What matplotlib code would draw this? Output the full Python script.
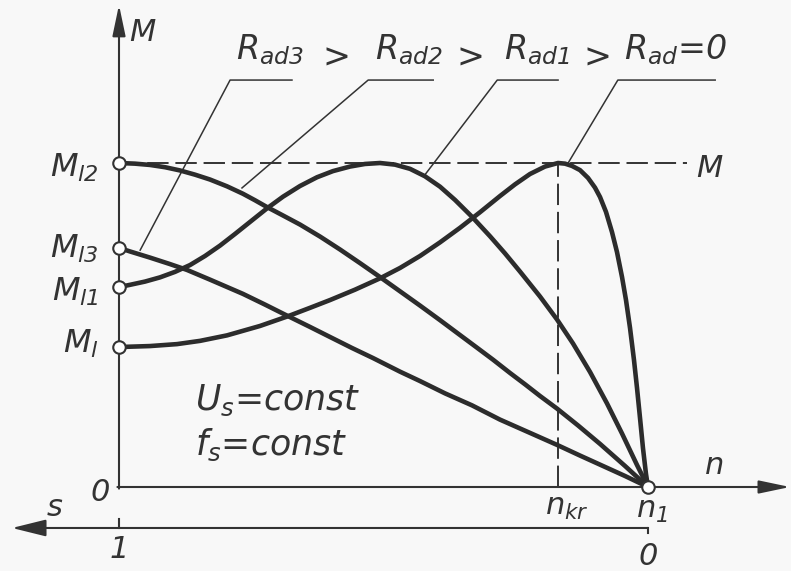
import matplotlib
matplotlib.use("Agg")
import matplotlib.pyplot as plt

# ---------------- data (n/n1 on x, M/Mk on y) ----------------
# curve R_ad = 0
n_r0 = [0.0, 0.0586, 0.1096, 0.1531, 0.2042, 0.2665, 0.3176, 0.3611, 0.3989, 0.4461,
        0.4934, 0.5312, 0.5690, 0.6068, 0.6446, 0.6824, 0.7202, 0.7486, 0.7769, 0.8053,
        0.8299, 0.8431, 0.8563, 0.8715, 0.8866, 0.8998, 0.9093, 0.9206, 0.9319, 0.9414,
        0.9509, 0.9584, 0.9660, 0.9735, 0.9792, 0.9849, 0.9905, 0.9962, 1.0]
m_r0 = [0.432, 0.435, 0.441, 0.451, 0.468, 0.497, 0.526, 0.553, 0.577, 0.609,
        0.644, 0.676, 0.713, 0.755, 0.800, 0.848, 0.898, 0.934, 0.966, 0.989,
        1.0, 0.998, 0.991, 0.978, 0.954, 0.924, 0.895, 0.849, 0.787, 0.725,
        0.648, 0.577, 0.491, 0.392, 0.306, 0.213, 0.120, 0.040, 0.0]
# curve R_ad1
n_r1 = [0.0, 0.0208, 0.0491, 0.0775, 0.1059, 0.1342, 0.1626, 0.1909, 0.2193, 0.2476,
        0.2798, 0.3100, 0.3422, 0.3743, 0.4045, 0.4367, 0.4650, 0.4934, 0.5217, 0.5501,
        0.5784, 0.6068, 0.6352, 0.6673, 0.7013, 0.7297, 0.7580, 0.7958, 0.8280, 0.8582,
        0.8904, 0.9225, 0.9509, 0.9792, 1.0]
m_r1 = [0.617, 0.624, 0.634, 0.647, 0.664, 0.685, 0.713, 0.745, 0.781, 0.818,
        0.860, 0.896, 0.929, 0.956, 0.975, 0.989, 0.997, 1.0, 0.995, 0.982,
        0.959, 0.927, 0.886, 0.834, 0.774, 0.721, 0.665, 0.588, 0.517, 0.443,
        0.355, 0.258, 0.165, 0.068, 0.0]
# curve R_ad2
n_r2 = [0.0, 0.0302, 0.0586, 0.0870, 0.1153, 0.1437, 0.1720, 0.2042, 0.2344, 0.2571,
        0.2798, 0.3100, 0.3422, 0.3800, 0.4178, 0.4556, 0.4934, 0.5312, 0.5690, 0.6068,
        0.6446, 0.6767, 0.7070, 0.7391, 0.7675, 0.7958, 0.8280, 0.8677, 0.9093, 0.9565,
        1.0]
m_r2 = [1.0, 0.998, 0.994, 0.987, 0.977, 0.964, 0.949, 0.928, 0.905, 0.885,
        0.864, 0.838, 0.810, 0.773, 0.733, 0.691, 0.648, 0.604, 0.560, 0.515,
        0.469, 0.430, 0.393, 0.352, 0.317, 0.281, 0.242, 0.190, 0.133, 0.065,
        0.0]
# curve R_ad3
n_r3 = [0.0, 0.0208, 0.0586, 0.0964, 0.1285, 0.1720, 0.2344, 0.2760, 0.3176, 0.3611,
        0.3989, 0.4405, 0.4802, 0.5312, 0.5690, 0.6163, 0.6673, 0.7202, 0.7769, 0.8280,
        0.8715, 0.9093, 0.9565, 1.0]
m_r3 = [0.738, 0.727, 0.708, 0.688, 0.670, 0.640, 0.596, 0.563, 0.529, 0.494,
        0.463, 0.429, 0.398, 0.356, 0.327, 0.289, 0.252, 0.208, 0.167, 0.130,
        0.097, 0.069, 0.034, 0.0]

n_kr = 0.8299          # speed at breakdown torque (R_ad = 0)
m_max = 1.0            # breakdown torque level

start_labels = [r"$M_{l2}$", r"$M_{l3}$", r"$M_{l1}$", r"$M_{l}$"]
res_labels = [r"$R_{ad3}$", r"$R_{ad2}$", r"$R_{ad1}$", r"$R_{ad}$=0"]

# ---------------- style ----------------
plt.rcParams["font.family"] = ["DejaVu Sans"]
plt.rcParams["font.style"] = "italic"
plt.rcParams["mathtext.fontset"] = "custom"
plt.rcParams["mathtext.it"] = "DejaVu Sans:italic"
plt.rcParams["mathtext.rm"] = "DejaVu Sans:italic"
plt.rcParams["mathtext.sf"] = "DejaVu Sans:italic"

ink = "#333333"
bg = "#f8f8f8"
FS = 23

fig = plt.figure(figsize=(7.91, 5.71), dpi=100, facecolor=bg)
ax = fig.add_axes([0, 0, 1, 1])
ax.set_facecolor(bg)
ax.set_xlim(-119 / 529, 672 / 529)
ax.set_ylim(-84 / 324, 487 / 324)
ax.axis("off")

# dashed reference lines
ax.plot([0, 1.074], [m_max, m_max], color=ink, lw=1.4, ls=(0, (11, 3.5)), zorder=1)
ax.plot([n_kr, n_kr], [0, m_max], color=ink, lw=1.4, ls=(0, (11, 3.5)), zorder=1)

# curves
for xs, ys in [(n_r0, m_r0), (n_r1, m_r1), (n_r2, m_r2), (n_r3, m_r3)]:
    ax.plot(xs, ys, color="#2c2c2c", lw=3.3, solid_joinstyle="round",
            solid_capstyle="round", zorder=3)

# axes
arrow_kw = dict(arrowstyle="-|>,head_length=0.95,head_width=0.2", color=ink, lw=1.5,
                shrinkA=0, shrinkB=0, mutation_scale=20)
ax.annotate("", xy=(0, 1.488), xytext=(0, -0.005), arrowprops=arrow_kw, zorder=2)
ax.annotate("", xy=(1.2684, 0), xytext=(-0.003, 0), arrowprops=arrow_kw, zorder=2)
s_y = -0.1265
ax.annotate("", xy=(-0.2023, s_y), xytext=(1.0, s_y),
            arrowprops=dict(arrowstyle="-|>,head_length=1.05,head_width=0.26", color=ink,
                            lw=1.5, shrinkA=0, shrinkB=0, mutation_scale=20), zorder=2)
ax.plot([0, 0], [s_y, -0.100], color=ink, lw=1.5)
ax.plot([1.0, 1.0], [s_y, -0.142], color=ink, lw=1.5)

# open circles
ax.plot([n_r2[0], n_r3[0], n_r1[0], n_r0[0], 1.0],
        [m_r2[0], m_r3[0], m_r1[0], m_r0[0], 0.0],
        ls="none", marker="o", ms=9, mfc="white", mec=ink, mew=1.5, zorder=5)

# start-torque labels
for lab, yb in zip(start_labels, [0.957, 0.707, 0.574, 0.414]):
    ax.text(-0.038, yb, lab, ha="right", va="baseline", fontsize=FS, color=ink)

# resistance labels with leaders
leaders = [((0.210, 0.327), (0.040, 0.731)),
           ((0.471, 0.594), (0.2325, 0.923)),
           ((0.715, 0.830), (0.578, 0.963)),
           ((0.943, 1.127), (0.849, 1.0))]
y_ul = 1.256
for lab, ((xa, xb), (xe, ye)) in zip(res_labels, leaders):
    ax.plot([xb, xa, xe], [y_ul, y_ul, ye], color=ink, lw=1.1, zorder=2)
    ax.text(xa + 0.012, 1.321, lab, ha="left", va="baseline", fontsize=FS + 1, color=ink)
for xg in [0.412, 0.6635, 0.9036]:
    ax.text(xg, 1.325, ">", ha="center", va="center", fontsize=FS + 1, color=ink)

# axis labels
ax.text(0.045, 1.404, "M", ha="center", va="center", fontsize=FS - 1, color=ink)
ax.text(1.091, 0.957, "M", ha="left", va="baseline", fontsize=FS - 1, color=ink)
ax.text(1.108, 0.040, "n", ha="left", va="baseline", fontsize=FS - 1, color=ink)
ax.text(-0.121, -0.062, "s", ha="center", va="center", fontsize=FS - 1, color=ink)
ax.text(-0.036, -0.0185, "0", ha="center", va="center", fontsize=FS - 1, color=ink)
ax.text(0.0, -0.194, "1", ha="center", va="center", fontsize=FS - 1, color=ink)
ax.text(1.0, -0.216, "0", ha="center", va="center", fontsize=FS - 1, color=ink)
ax.text(0.805, -0.0864, r"$n_{kr}$", ha="left", va="baseline", fontsize=FS - 1, color=ink)
ax.text(0.977, -0.0957, r"$n_{1}$", ha="left", va="baseline", fontsize=FS - 1, color=ink)

# conditions
ax.text(0.1437, 0.2377, r"$U_s$=const", ha="left", va="baseline", fontsize=FS + 2, color=ink)
ax.text(0.1437, 0.0988, r"$f_s$=const", ha="left", va="baseline", fontsize=FS + 2, color=ink)

fig.savefig("out.png", dpi=100, facecolor=bg)
